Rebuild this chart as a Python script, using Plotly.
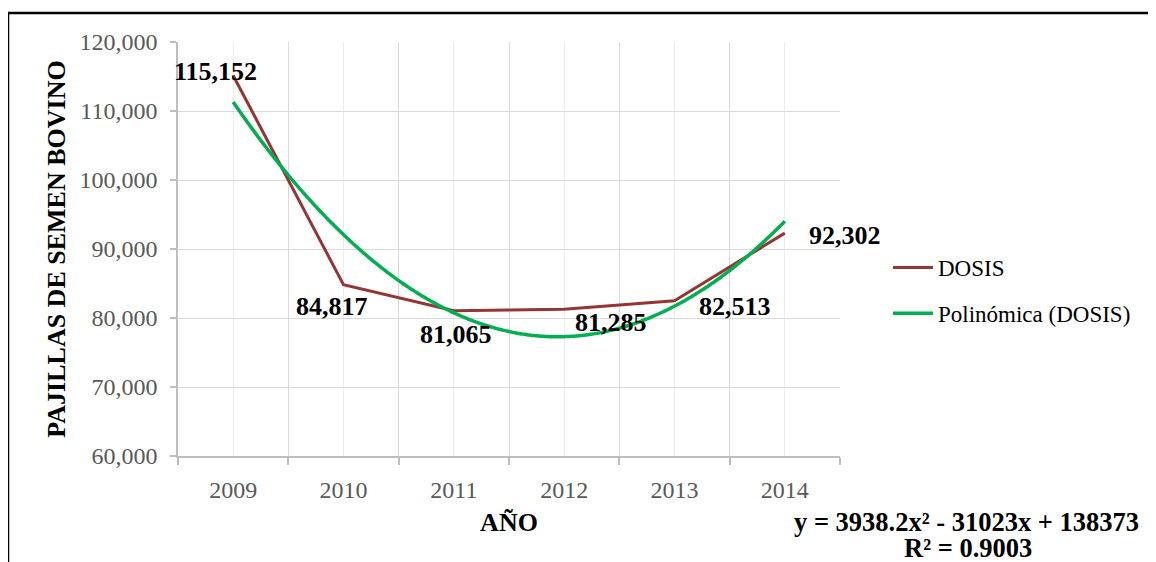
import numpy as np
import plotly.graph_objects as go

years = ["2009", "2010", "2011", "2012", "2013", "2014"]
dosis = [115152, 84817, 81065, 81285, 82513, 92302]
label_text = ["115,152", "84,817", "81,065", "81,285", "82,513", "92,302"]
# label offsets (px) relative to each point
label_dx = [-18, -12, 2, 47, 60, 60]
label_dy = [4, -22, -24, -13, -6, -2]
y_ticks = [60000, 70000, 80000, 90000, 100000, 110000, 120000]
equation_text = "y = 3938.2x² - 31023x + 138373"
r2_text = "R² = 0.9003"

FONT = "Liberation Serif, Times New Roman, serif"
RED = "#943634"
GREEN = "#00B050"

xpos = np.arange(1, len(years) + 1)
coef = np.polyfit(xpos, dosis, 2)
xs = np.linspace(1, len(years), 200)
ys = np.polyval(coef, xs)

fig = go.Figure()
fig.add_trace(go.Scatter(x=xpos, y=dosis, mode="lines", name="DOSIS",
                         line=dict(color=RED, width=3), legendgroup="a"))
fig.add_trace(go.Scatter(x=xs, y=ys, mode="lines", name="Polinómica (DOSIS)",
                         line=dict(color=GREEN, width=3.5, shape="spline"), legendgroup="b"))

for xv, yv, t, dx, dy in zip(xpos, dosis, label_text, label_dx, label_dy):
    fig.add_annotation(x=xv, y=yv, text=t, showarrow=False, xshift=dx, yshift=dy,
                       font=dict(family=FONT, size=26, color="black", weight="bold"))

OFF = 8  # page body margin
L, R, T, B = 178 - OFF, 840 - OFF, 42 - OFF, 456 - OFF
W, H = 1156 - OFF, 562 - OFF

def px(x):
    return (x - OFF - L) / (R - L)

def py(y):
    return (B - (y - OFF)) / (B - T)

fig.add_annotation(xref="paper", yref="paper", x=px(967), y=py(522), text=equation_text,
                   showarrow=False, xanchor="center", yanchor="middle",
                   font=dict(family=FONT, size=26.5, color="black", weight="bold"))
fig.add_annotation(xref="paper", yref="paper", x=px(968), y=py(548), text=r2_text,
                   showarrow=False, xanchor="center", yanchor="middle",
                   font=dict(family=FONT, size=26.5, color="black", weight="bold"))

# outer chart frame (top and left visible)
fig.add_shape(type="rect", xref="paper", yref="paper",
              x0=px(8), y0=py(700), x1=px(1300), y1=py(13),
              line=dict(color="black", width=2.5), layer="above")

fig.update_layout(
    width=W, height=H,
    margin=dict(l=L, r=W - R, t=T, b=H - B, autoexpand=False),
    paper_bgcolor="white", plot_bgcolor="white",
    showlegend=True,
    legend=dict(x=px(888), y=py(246), xanchor="left", yanchor="top",
                font=dict(family=FONT, size=23, color="black"),
                itemwidth=40,
                tracegroupgap=13, bgcolor="rgba(0,0,0,0)"),
    xaxis=dict(
        range=[0.5, len(years) + 0.5], tickvals=list(xpos), ticktext=years,
        showgrid=True, gridcolor="#ededed", gridwidth=1,
        ticks="", showline=True, linecolor="#bfbfbf", linewidth=1.5,
        tickfont=dict(family=FONT, size=24, color="#595959"),
        ticklabelstandoff=11,
        minor=dict(tickvals=[i + 0.5 for i in range(0, len(years) + 1)],
                   showgrid=True, gridcolor="#d9d9d9", gridwidth=1.3,
                   ticks="outside", ticklen=7, tickcolor="#bfbfbf", tickwidth=1.5),
        title=dict(text="AÑO", standoff=11,
                   font=dict(family=FONT, size=26, color="black", weight="bold")),
        zeroline=False,
    ),
    yaxis=dict(
        range=[60000, 120000], tickvals=y_ticks,
        ticktext=[f"{v:,}" for v in y_ticks],
        showgrid=True, gridcolor="#d9d9d9", gridwidth=1.3,
        ticks="outside", ticklen=6, tickcolor="#bfbfbf", tickwidth=1.5,
        showline=True, linecolor="#bfbfbf", linewidth=1.5,
        tickfont=dict(family=FONT, size=24, color="#595959"),
        ticklabelstandoff=8,
        title=dict(text="PAJILLAS DE SEMEN BOVINO", standoff=6,
                   font=dict(family=FONT, size=26, color="black", weight="bold")),
        zeroline=False,
    ),
)

fig.write_html("out.html")
